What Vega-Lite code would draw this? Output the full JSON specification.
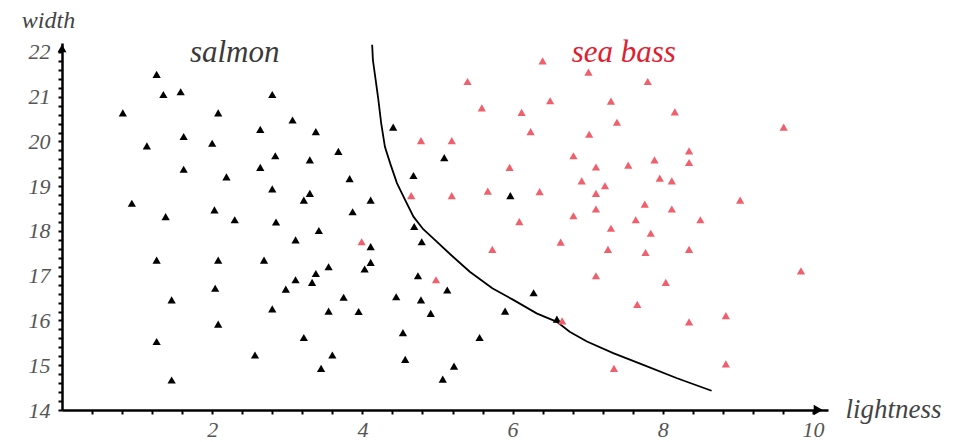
{
  "$schema": "https://vega.github.io/schema/vega-lite/v6.json",
  "width": 766,
  "height": 367,
  "autosize": {"type": "none"},
  "padding": {"left": 62, "top": 43, "right": 137, "bottom": 32},
  "background": "white",
  "config": {"view": {"stroke": null}},
  "datasets": {
    "curve": [
      {"x": 4.13, "y": 22.16}, {"x": 4.14, "y": 21.82}, {"x": 4.21, "y": 20.97}, {"x": 4.25, "y": 20.41},
      {"x": 4.30, "y": 19.88}, {"x": 4.37, "y": 19.51}, {"x": 4.46, "y": 19.07}, {"x": 4.57, "y": 18.69},
      {"x": 4.68, "y": 18.32}, {"x": 4.81, "y": 18.04}, {"x": 4.94, "y": 17.84}, {"x": 5.17, "y": 17.48},
      {"x": 5.43, "y": 17.09}, {"x": 5.73, "y": 16.72}, {"x": 6.01, "y": 16.46}, {"x": 6.32, "y": 16.16},
      {"x": 6.59, "y": 15.97}, {"x": 6.76, "y": 15.75}, {"x": 6.99, "y": 15.53}, {"x": 7.34, "y": 15.27},
      {"x": 7.74, "y": 15.01}, {"x": 8.19, "y": 14.71}, {"x": 8.65, "y": 14.43}
    ],
    "fish": [
      {"x": 1.26, "y": 21.50, "species": "salmon"}, {"x": 1.35, "y": 21.05, "species": "salmon"},
      {"x": 1.58, "y": 21.11, "species": "salmon"}, {"x": 2.80, "y": 21.05, "species": "salmon"},
      {"x": 0.81, "y": 20.64, "species": "salmon"}, {"x": 2.08, "y": 20.64, "species": "salmon"},
      {"x": 3.07, "y": 20.48, "species": "salmon"}, {"x": 2.64, "y": 20.27, "species": "salmon"},
      {"x": 3.38, "y": 20.22, "species": "salmon"}, {"x": 1.13, "y": 19.90, "species": "salmon"},
      {"x": 1.62, "y": 20.11, "species": "salmon"}, {"x": 2.00, "y": 19.96, "species": "salmon"},
      {"x": 2.84, "y": 19.68, "species": "salmon"}, {"x": 3.30, "y": 19.59, "species": "salmon"},
      {"x": 1.62, "y": 19.38, "species": "salmon"}, {"x": 2.19, "y": 19.21, "species": "salmon"},
      {"x": 2.64, "y": 19.42, "species": "salmon"}, {"x": 2.80, "y": 18.94, "species": "salmon"},
      {"x": 3.30, "y": 18.84, "species": "salmon"}, {"x": 3.22, "y": 18.69, "species": "salmon"},
      {"x": 0.93, "y": 18.62, "species": "salmon"}, {"x": 1.38, "y": 18.32, "species": "salmon"},
      {"x": 2.03, "y": 18.47, "species": "salmon"}, {"x": 2.30, "y": 18.25, "species": "salmon"},
      {"x": 2.85, "y": 18.20, "species": "salmon"}, {"x": 3.11, "y": 17.80, "species": "salmon"},
      {"x": 3.42, "y": 18.01, "species": "salmon"}, {"x": 1.26, "y": 17.35, "species": "salmon"},
      {"x": 2.08, "y": 17.35, "species": "salmon"}, {"x": 2.69, "y": 17.35, "species": "salmon"},
      {"x": 3.11, "y": 16.91, "species": "salmon"}, {"x": 3.33, "y": 16.85, "species": "salmon"},
      {"x": 3.38, "y": 17.05, "species": "salmon"}, {"x": 2.04, "y": 16.72, "species": "salmon"},
      {"x": 2.98, "y": 16.70, "species": "salmon"}, {"x": 1.46, "y": 16.46, "species": "salmon"},
      {"x": 2.80, "y": 16.26, "species": "salmon"}, {"x": 2.08, "y": 15.92, "species": "salmon"},
      {"x": 3.22, "y": 15.62, "species": "salmon"}, {"x": 1.26, "y": 15.53, "species": "salmon"},
      {"x": 2.57, "y": 15.23, "species": "salmon"}, {"x": 1.46, "y": 14.67, "species": "salmon"},
      {"x": 3.45, "y": 14.93, "species": "salmon"}, {"x": 4.41, "y": 20.32, "species": "salmon"},
      {"x": 3.68, "y": 19.78, "species": "salmon"}, {"x": 5.09, "y": 19.64, "species": "salmon"},
      {"x": 3.83, "y": 19.17, "species": "salmon"}, {"x": 4.68, "y": 19.24, "species": "salmon"},
      {"x": 4.11, "y": 18.69, "species": "salmon"}, {"x": 3.87, "y": 18.43, "species": "salmon"},
      {"x": 5.97, "y": 18.79, "species": "salmon"}, {"x": 4.69, "y": 18.10, "species": "salmon"},
      {"x": 4.11, "y": 17.65, "species": "salmon"}, {"x": 4.79, "y": 17.76, "species": "salmon"},
      {"x": 3.55, "y": 17.20, "species": "salmon"}, {"x": 4.03, "y": 17.15, "species": "salmon"},
      {"x": 4.11, "y": 17.30, "species": "salmon"}, {"x": 4.74, "y": 17.00, "species": "salmon"},
      {"x": 5.13, "y": 16.68, "species": "salmon"}, {"x": 3.75, "y": 16.52, "species": "salmon"},
      {"x": 4.45, "y": 16.53, "species": "salmon"}, {"x": 4.78, "y": 16.46, "species": "salmon"},
      {"x": 3.55, "y": 16.21, "species": "salmon"}, {"x": 3.95, "y": 16.20, "species": "salmon"},
      {"x": 4.91, "y": 16.16, "species": "salmon"}, {"x": 5.90, "y": 16.21, "species": "salmon"},
      {"x": 6.28, "y": 16.62, "species": "salmon"}, {"x": 6.59, "y": 16.03, "species": "salmon"},
      {"x": 4.54, "y": 15.73, "species": "salmon"}, {"x": 5.56, "y": 15.62, "species": "salmon"},
      {"x": 3.60, "y": 15.23, "species": "salmon"}, {"x": 4.57, "y": 15.13, "species": "salmon"},
      {"x": 5.22, "y": 14.98, "species": "salmon"}, {"x": 5.07, "y": 14.69, "species": "salmon"},
      {"x": 5.40, "y": 21.34, "species": "sea bass"}, {"x": 6.40, "y": 21.80, "species": "sea bass"},
      {"x": 5.59, "y": 20.75, "species": "sea bass"}, {"x": 6.12, "y": 20.65, "species": "sea bass"},
      {"x": 6.50, "y": 20.91, "species": "sea bass"}, {"x": 6.24, "y": 20.22, "species": "sea bass"},
      {"x": 4.78, "y": 20.02, "species": "sea bass"}, {"x": 5.19, "y": 20.02, "species": "sea bass"},
      {"x": 5.96, "y": 19.42, "species": "sea bass"}, {"x": 4.65, "y": 18.79, "species": "sea bass"},
      {"x": 5.19, "y": 18.79, "species": "sea bass"}, {"x": 5.67, "y": 18.89, "species": "sea bass"},
      {"x": 6.36, "y": 18.88, "species": "sea bass"}, {"x": 6.09, "y": 18.21, "species": "sea bass"},
      {"x": 6.81, "y": 19.68, "species": "sea bass"}, {"x": 7.01, "y": 21.55, "species": "sea bass"},
      {"x": 7.80, "y": 21.34, "species": "sea bass"}, {"x": 7.31, "y": 20.90, "species": "sea bass"},
      {"x": 7.02, "y": 20.16, "species": "sea bass"}, {"x": 7.39, "y": 20.43, "species": "sea bass"},
      {"x": 7.11, "y": 19.43, "species": "sea bass"}, {"x": 7.54, "y": 19.47, "species": "sea bass"},
      {"x": 6.92, "y": 19.12, "species": "sea bass"}, {"x": 7.23, "y": 19.01, "species": "sea bass"},
      {"x": 7.11, "y": 18.84, "species": "sea bass"}, {"x": 7.11, "y": 18.49, "species": "sea bass"},
      {"x": 7.76, "y": 18.60, "species": "sea bass"}, {"x": 6.81, "y": 18.34, "species": "sea bass"},
      {"x": 7.64, "y": 18.25, "species": "sea bass"}, {"x": 7.31, "y": 18.06, "species": "sea bass"},
      {"x": 8.16, "y": 20.66, "species": "sea bass"}, {"x": 9.61, "y": 20.32, "species": "sea bass"},
      {"x": 8.35, "y": 19.79, "species": "sea bass"}, {"x": 8.35, "y": 19.53, "species": "sea bass"},
      {"x": 7.89, "y": 19.59, "species": "sea bass"}, {"x": 7.96, "y": 19.18, "species": "sea bass"},
      {"x": 8.12, "y": 19.12, "species": "sea bass"}, {"x": 9.03, "y": 18.69, "species": "sea bass"},
      {"x": 8.12, "y": 18.49, "species": "sea bass"}, {"x": 8.50, "y": 18.25, "species": "sea bass"},
      {"x": 7.84, "y": 17.95, "species": "sea bass"}, {"x": 6.64, "y": 17.75, "species": "sea bass"},
      {"x": 7.27, "y": 17.59, "species": "sea bass"}, {"x": 7.77, "y": 17.52, "species": "sea bass"},
      {"x": 8.35, "y": 17.59, "species": "sea bass"}, {"x": 7.11, "y": 17.00, "species": "sea bass"},
      {"x": 8.04, "y": 16.85, "species": "sea bass"}, {"x": 9.84, "y": 17.11, "species": "sea bass"},
      {"x": 7.66, "y": 16.36, "species": "sea bass"}, {"x": 8.84, "y": 16.11, "species": "sea bass"},
      {"x": 8.35, "y": 15.97, "species": "sea bass"}, {"x": 6.66, "y": 15.99, "species": "sea bass"},
      {"x": 7.35, "y": 14.93, "species": "sea bass"}, {"x": 8.84, "y": 15.03, "species": "sea bass"},
      {"x": 3.99, "y": 17.76, "species": "sea bass"}, {"x": 5.73, "y": 17.59, "species": "sea bass"},
      {"x": 4.98, "y": 16.91, "species": "sea bass"}
    ],
    "xarrow": [{"x": 10.07, "y": 14}],
    "yarrow": [{"x": 0, "y": 22.08}],
    "labels": [
      {"x": 2.30, "y": 21.78, "label": "salmon"},
      {"x": 7.48, "y": 21.78, "label": "sea bass"}
    ]
  },
  "encoding": {
    "x": {
      "field": "x", "type": "quantitative",
      "scale": {"domain": [0, 10.2], "nice": false, "zero": false},
      "axis": {
        "title": "lightness",
        "titleFont": "Liberation Serif, Times New Roman, serif", "titleFontStyle": "italic", "titleFontWeight": "normal",
        "titleFontSize": 27, "titleColor": "#444",
        "titleAngle": 0, "titleAlign": "left", "titleBaseline": "alphabetic",
        "titleX": 783, "titleY": 7,
        "values": [0.4, 0.8, 1.2, 1.6, 2, 2.4, 2.8, 3.2, 3.6, 4, 4.4, 4.8, 5.2, 5.6, 6, 6.4, 6.8, 7.2, 7.6, 8, 8.4, 8.8, 9.2, 9.6, 10],
        "format": "~g",
        "labelExpr": "datum.value % 2 === 0 ? datum.label : ''",
        "labelOverlap": false, "labelFlush": false,
        "labelFont": "Liberation Serif, Times New Roman, serif", "labelFontStyle": "italic", "labelFontSize": 22,
        "labelColor": "#555", "labelPadding": 5, "labelDx": -9,
        "domainColor": "black", "domainWidth": 2.5,
        "tickColor": "black", "tickWidth": 2, "tickSize": 4,
        "grid": false
      }
    },
    "y": {
      "field": "y", "type": "quantitative",
      "scale": {"domain": [14, 22.2], "nice": false, "zero": false},
      "axis": {
        "title": "width",
        "titleFont": "Liberation Serif, Times New Roman, serif", "titleFontStyle": "italic", "titleFontWeight": "normal",
        "titleFontSize": 24, "titleColor": "#444",
        "titleAngle": 0, "titleAlign": "center", "titleBaseline": "alphabetic",
        "titleX": -14, "titleY": -16,
        "values": [14, 14.2, 14.4, 14.6, 14.8, 15, 15.2, 15.4, 15.6, 15.8, 16, 16.2, 16.4, 16.6, 16.8, 17, 17.2, 17.4, 17.6, 17.8, 18, 18.2, 18.4, 18.6, 18.8, 19, 19.2, 19.4, 19.6, 19.8, 20, 20.2, 20.4, 20.6, 20.8, 21, 21.2, 21.4, 21.6, 21.8, 22],
        "format": "~g",
        "labelExpr": "datum.value % 1 === 0 ? datum.label : ''",
        "labelOverlap": false, "labelFlush": false,
        "labelFont": "Liberation Serif, Times New Roman, serif", "labelFontStyle": "italic", "labelFontSize": 22,
        "labelColor": "#555", "labelPadding": 8,
        "domainColor": "black", "domainWidth": 2.5,
        "tickColor": "black", "tickWidth": 2, "tickSize": 4,
        "grid": false
      }
    }
  },
  "layer": [
    {
      "data": {"name": "curve"},
      "mark": {"type": "line", "color": "black", "strokeWidth": 1.8}
    },
    {
      "data": {"name": "fish"},
      "mark": {"type": "point", "shape": "triangle-up", "filled": true, "size": 68, "opacity": 1},
      "encoding": {
        "color": {"field": "species", "type": "nominal",
          "scale": {"domain": ["salmon", "sea bass"], "range": ["#000000", "#f0606c"]},
          "legend": null}
      }
    },
    {
      "data": {"name": "xarrow"},
      "mark": {"type": "point", "shape": "triangle-right", "filled": true, "size": 110, "color": "black", "opacity": 1}
    },
    {
      "data": {"name": "yarrow"},
      "mark": {"type": "point", "shape": "triangle-up", "filled": true, "size": 80, "color": "black", "opacity": 1}
    },
    {
      "data": {"name": "labels"},
      "mark": {"type": "text", "font": "Liberation Serif, Times New Roman, serif", "fontStyle": "italic", "fontSize": 31, "align": "center", "baseline": "alphabetic"},
      "encoding": {
        "text": {"field": "label"},
        "color": {"condition": {"test": "datum.label === 'sea bass'", "value": "#e02030"}, "value": "#3a3a3a"}
      }
    }
  ]
}
